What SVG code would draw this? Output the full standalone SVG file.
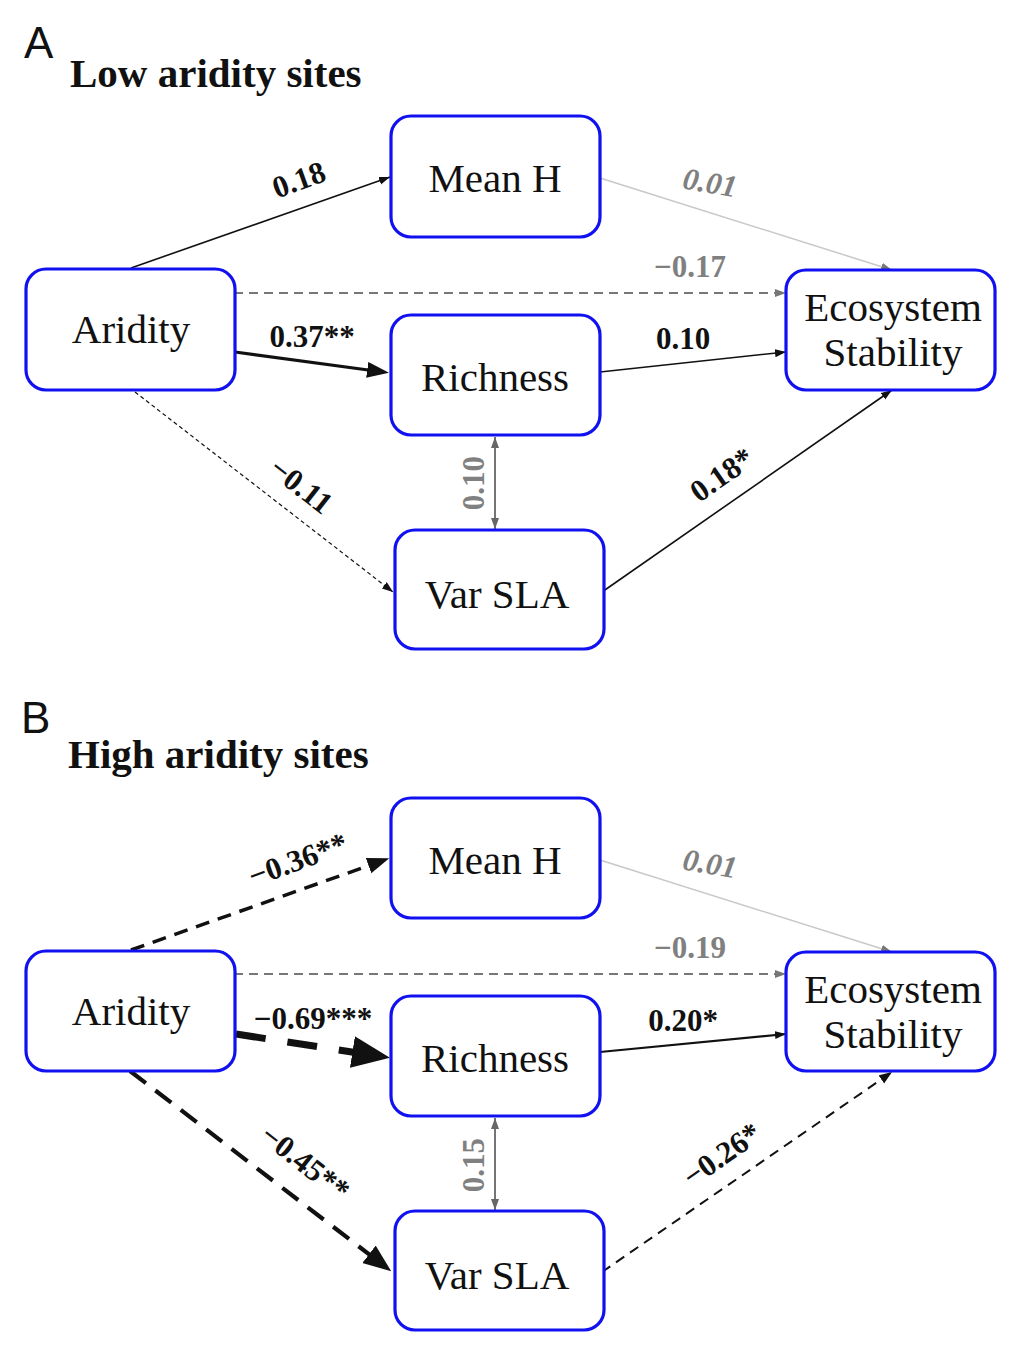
<svg xmlns="http://www.w3.org/2000/svg" width="1012" height="1364" viewBox="0 0 1012 1364">
<style>
.box{fill:#fff;stroke:#1010f0;stroke-width:3.2}
.nl{font-family:"Liberation Serif",serif;font-size:41px;fill:#111;text-anchor:middle}
.hd{font-family:"Liberation Serif",serif;font-size:41px;font-weight:bold;fill:#111}
.pl{font-family:"Liberation Sans",sans-serif;font-size:44px;fill:#111}
.el{font-family:"Liberation Serif",serif;font-size:31px;font-weight:bold;fill:#111;text-anchor:middle}
.gl{fill:#808080}
.it{font-style:italic}
.c{fill:none}
</style>
<defs>
<marker id="aS" markerUnits="userSpaceOnUse" markerWidth="12" markerHeight="10" refX="11" refY="4" orient="auto"><path d="M0,0 L11,4 L0,8 z" fill="#111"/></marker>
<marker id="aG" markerUnits="userSpaceOnUse" markerWidth="12" markerHeight="10" refX="11" refY="4" orient="auto-start-reverse"><path d="M0,0 L11,4 L0,8 z" fill="#666"/></marker>
<marker id="aGl" markerUnits="userSpaceOnUse" markerWidth="12" markerHeight="10" refX="11" refY="4" orient="auto"><path d="M0,0 L11,4 L0,8 z" fill="#777"/></marker>
<marker id="aM" markerUnits="userSpaceOnUse" markerWidth="24" markerHeight="18" refX="1" refY="8" orient="auto"><path d="M0,0 L22,8 L0,16 z" fill="#111"/></marker>
<marker id="aL" markerUnits="userSpaceOnUse" markerWidth="40" markerHeight="34" refX="1" refY="16" orient="auto"><path d="M0,0 L38,16 L0,32 z" fill="#111"/></marker>
<marker id="aX" markerUnits="userSpaceOnUse" markerWidth="30" markerHeight="24" refX="1" refY="11" orient="auto"><path d="M0,0 L28,11 L0,22 z" fill="#111"/></marker>
<marker id="aD" markerUnits="userSpaceOnUse" markerWidth="14" markerHeight="12" refX="13" refY="5" orient="auto"><path d="M0,0 L13,5 L0,10 z" fill="#111"/></marker>
</defs>
<rect width="1012" height="1364" fill="#fff"/>

<g id="connectors">
<line class="c" x1="131" y1="268" x2="390" y2="177" stroke="#111" stroke-width="1.6" marker-end="url(#aS)"/>
<line class="c" x1="600" y1="178" x2="892" y2="270" stroke="#c8c8c8" stroke-width="1.5" marker-end="url(#aGl)"/>
<line class="c" x1="234" y1="293" x2="786" y2="293" stroke="#777" stroke-width="1.8" stroke-dasharray="9 6" marker-end="url(#aGl)"/>
<line class="c" x1="235" y1="352" x2="368.2" y2="370" stroke="#111" stroke-width="3.2" marker-end="url(#aM)"/>
<line class="c" x1="600" y1="372" x2="786" y2="352" stroke="#111" stroke-width="1.5" marker-end="url(#aS)"/>
<line class="c" x1="135" y1="392" x2="393" y2="592" stroke="#111" stroke-width="1.2" stroke-dasharray="4 3" marker-end="url(#aS)"/>
<line class="c" x1="495" y1="437" x2="495" y2="529" stroke="#666" stroke-width="1.8" marker-start="url(#aG)" marker-end="url(#aG)"/>
<line class="c" x1="602" y1="592" x2="892" y2="390" stroke="#111" stroke-width="1.6" marker-end="url(#aS)"/>
<line class="c" x1="131" y1="950" x2="369.5" y2="865.3" stroke="#111" stroke-width="3.5" stroke-dasharray="14 9" marker-end="url(#aM)"/>
<line class="c" x1="600" y1="860" x2="892" y2="952" stroke="#c8c8c8" stroke-width="1.5" marker-end="url(#aGl)"/>
<line class="c" x1="234" y1="974" x2="786" y2="974" stroke="#777" stroke-width="1.8" stroke-dasharray="9 6" marker-end="url(#aGl)"/>
<line class="c" x1="236" y1="1034" x2="353.4" y2="1052.2" stroke="#111" stroke-width="7" stroke-dasharray="30 22" marker-end="url(#aL)"/>
<line class="c" x1="600" y1="1052" x2="786" y2="1034" stroke="#111" stroke-width="2.2" marker-end="url(#aS)"/>
<line class="c" x1="130" y1="1071" x2="369.8" y2="1254.9" stroke="#111" stroke-width="4.2" stroke-dasharray="20 12" marker-end="url(#aX)"/>
<line class="c" x1="495" y1="1118" x2="495" y2="1210" stroke="#666" stroke-width="1.8" marker-start="url(#aG)" marker-end="url(#aG)"/>
<line class="c" x1="602" y1="1272" x2="892" y2="1072" stroke="#111" stroke-width="2" stroke-dasharray="10 7" marker-end="url(#aD)"/>
</g>

<g id="labels">
<text class="pl" x="24" y="58">A</text>
<text class="hd" x="70" y="87">Low aridity sites</text>
<text class="pl" x="21" y="733">B</text>
<text class="hd" x="68" y="768">High aridity sites</text>

<text class="el" transform="translate(299,180) rotate(-20)" y="10">0.18</text>
<text class="el gl it" transform="translate(710,183) rotate(10)" y="10">0.01</text>
<text class="el gl" x="690" y="277">−0.17</text>
<text class="el" x="312" y="347">0.37**</text>
<text class="el" x="683" y="349">0.10</text>
<text class="el" transform="translate(301,486) rotate(38)" y="10">−0.11</text>
<text class="el gl" transform="translate(474,483) rotate(-90)" y="10">0.10</text>
<text class="el" transform="translate(722,475) rotate(-35)" y="10">0.18*</text>

<text class="el" transform="translate(298,860) rotate(-20)" y="10">−0.36**</text>
<text class="el gl it" transform="translate(710,864) rotate(10)" y="10">0.01</text>
<text class="el gl" x="690" y="958">−0.19</text>
<text class="el" x="313" y="1029">−0.69***</text>
<text class="el" x="683" y="1031">0.20*</text>
<text class="el" transform="translate(305,1163) rotate(38)" y="10">−0.45**</text>
<text class="el gl" transform="translate(474,1165) rotate(-90)" y="10">0.15</text>
<text class="el" transform="translate(722,1155) rotate(-35)" y="10">−0.26*</text>
</g>

<g id="a-meanh"><rect class="box" x="391" y="116" width="209" height="121" rx="20"/><text class="nl" x="495" y="192">Mean H</text></g>
<g id="a-aridity"><rect class="box" x="26" y="269" width="209" height="121" rx="20"/><text class="nl" x="131" y="343">Aridity</text></g>
<g id="a-richness"><rect class="box" x="391" y="315" width="209" height="120" rx="20"/><text class="nl" x="495" y="391">Richness</text></g>
<g id="a-varsla"><rect class="box" x="395" y="530" width="209" height="119" rx="20"/><text class="nl" x="497" y="608">Var SLA</text></g>
<g id="a-eco"><rect class="box" x="786" y="270" width="209" height="120" rx="20"/><text class="nl" x="893" y="321">Ecosystem</text><text class="nl" x="893" y="366">Stability</text></g>

<g id="b-meanh"><rect class="box" x="391" y="798" width="209" height="120" rx="20"/><text class="nl" x="495" y="874">Mean H</text></g>
<g id="b-aridity"><rect class="box" x="26" y="951" width="209" height="120" rx="20"/><text class="nl" x="131" y="1025">Aridity</text></g>
<g id="b-richness"><rect class="box" x="391" y="996" width="209" height="120" rx="20"/><text class="nl" x="495" y="1072">Richness</text></g>
<g id="b-varsla"><rect class="box" x="395" y="1211" width="209" height="119" rx="20"/><text class="nl" x="497" y="1289">Var SLA</text></g>
<g id="b-eco"><rect class="box" x="786" y="952" width="209" height="119" rx="20"/><text class="nl" x="893" y="1003">Ecosystem</text><text class="nl" x="893" y="1048">Stability</text></g>
</svg>
